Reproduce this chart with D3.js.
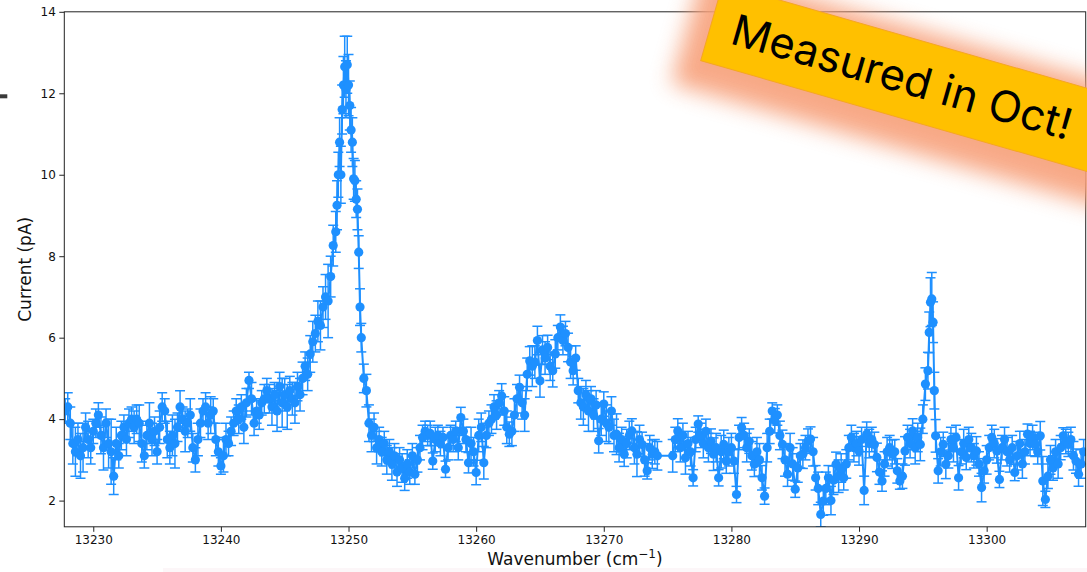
<!DOCTYPE html>
<html><head><meta charset="utf-8">
<script src="https://cdn.jsdelivr.net/npm/d3@7"></script>
<style>html,body{margin:0;padding:0;background:#fff;} svg{display:block;}</style>
</head><body>
<svg id="chart" width="1087" height="572"></svg>
<script>
// ---------------- DATA ----------------
const wavenumber = [
 13227.8,13228.0,13228.2,13228.4,13228.6,13228.8,13229.0,13229.2,13229.4,13229.6,
 13229.8,13230.0,13230.2,13230.4,13230.6,13230.8,13231.0,13231.2,13231.4,13231.6,
 13231.8,13232.0,13232.2,13232.4,13232.6,13232.8,13233.0,13233.2,13233.4,13233.6,
 13233.8,13234.0,13234.2,13234.4,13234.6,13234.8,13235.0,13235.2,13235.4,13235.6,
 13235.8,13236.0,13236.2,13236.4,13236.6,13236.8,13237.0,13237.2,13237.4,13237.6,
 13237.8,13238.0,13238.2,13238.4,13238.6,13238.8,13239.0,13239.2,13239.4,13239.6,
 13239.8,13240.0,13240.2,13240.4,13240.6,13240.8,13241.0,13241.2,13241.4,13241.6,
 13241.8,13242.0,13242.2,13242.4,13242.6,13242.8,13243.0,13243.2,13243.4,13243.6,
 13243.8,13244.0,13244.2,13244.4,13244.6,13244.8,13245.0,13245.2,13245.4,13245.6,
 13245.8,13246.0,13246.2,13246.4,13246.6,13246.8,13247.0,13247.2,13247.4,13247.6,
 13247.8,13248.0,13248.2,13248.4,13248.6,13248.8,
 13249.0,13249.1,13249.2,13249.3,13249.4,13249.5,13249.6,13249.7,13249.8,13249.9,13250.0,13250.1,13250.2,13250.3,13250.4,13250.5,13250.6,13250.7,13250.8,13250.9,
 13251.0,13251.2,13251.4,13251.6,13251.8,
 13252.0,13252.2,13252.4,13252.6,13252.8,13253.0,13253.2,13253.4,13253.6,13253.8,
 13254.0,13254.2,13254.4,13254.6,13254.8,13255.0,13255.2,13255.4,13255.6,13255.8,
 13256.0,13256.2,13256.4,13256.6,13256.8,13257.0,13257.2,13257.4,13257.6,13257.8,
 13258.0,13258.2,13258.4,13258.6,13258.8,13259.0,13259.2,13259.4,13259.6,13259.8,
 13260.0,13260.2,13260.4,13260.6,13260.8,13261.0,13261.2,13261.4,13261.6,13261.8,
 13262.0,13262.2,13262.4,13262.6,13262.8,13263.0,13263.2,13263.4,13263.6,13263.8,
 13264.0,13264.2,13264.4,13264.6,13264.8,13265.0,13265.2,13265.4,13265.6,13265.8,
 13266.0,13266.2,13266.4,13266.6,13266.8,13267.0,13267.2,13267.4,13267.6,13267.8,
 13268.0,13268.2,13268.4,13268.6,13268.8,13269.0,13269.2,13269.4,13269.6,13269.8,
 13270.0,13270.2,13270.4,13270.6,13270.8,13271.0,13271.2,13271.4,13271.6,13271.8,
 13272.0,13272.2,13272.4,13272.6,13272.8,13273.0,13273.2,13273.4,13273.6,13273.8,
 13274.0,13274.2,13275.4,13275.6,13275.8,
 13276.0,13276.2,13276.4,13276.6,13276.8,13277.0,13277.2,13277.4,13277.6,13277.8,
 13278.0,13278.2,13278.4,13278.6,13278.8,13279.0,13279.2,13279.4,13279.6,13279.8,
 13280.0,13280.2,13280.4,13280.6,13280.8,13281.0,13281.2,13281.4,13281.6,13281.8,
 13282.0,13282.2,13282.4,13282.6,13282.8,13283.0,13283.2,13283.4,13283.6,13283.8,
 13284.0,13284.2,13284.4,13284.6,13284.8,13285.0,13285.2,13285.4,13285.6,13285.8,
 13286.0,13286.2,13286.4,13286.6,13286.8,13287.0,13287.2,13287.4,13287.6,13287.8,
 13288.0,13288.2,13288.4,13288.6,13288.8,13289.0,13289.2,13289.4,13289.6,13289.8,
 13290.0,13290.2,13290.4,13290.6,13290.8,13291.0,13291.2,13291.4,13291.6,13291.8,
 13292.0,13292.2,13292.4,13292.6,13292.8,13293.0,13293.2,13293.4,13293.6,13293.8,
 13294.0,13294.2,13294.4,13294.6,13294.8,13295.0,13295.2,13295.4,13295.5,13295.6,13295.7,13295.8,13295.9,13296.0,13296.2,
 13296.4,13296.6,13296.8,13297.0,13297.2,13297.4,13297.6,13297.8,
 13298.0,13298.2,13298.4,13298.6,13298.8,13299.0,13299.2,13299.4,13299.6,13299.8,
 13300.0,13300.2,13300.4,13300.6,13300.8,13301.0,13301.2,13301.4,13301.6,13301.8,
 13302.0,13302.2,13302.4,13302.6,13302.8,13303.0,13303.2,13303.4,13303.6,13303.8,
 13304.0,13304.2,13304.4,13304.6,13304.8,13305.0,13305.2,13305.4,13305.6,13305.8,
 13306.0,13306.2,13306.4,13306.6,13306.8,13307.0,13307.2,13307.4,13307.6
];
const current = [
 4.2,4.3,3.9,3.4,3.2,3.5,3.1,3.3,3.8,3.5,
 3.3,3.7,3.9,4.1,3.6,3.3,3.9,3.4,3.2,2.6,
 3.4,3.1,3.6,3.8,3.5,3.9,4.0,3.8,4.0,3.9,
 3.4,3.1,3.6,3.9,3.5,3.7,3.2,3.8,4.3,4.2,
 3.5,3.3,3.6,3.4,3.8,4.3,4.0,3.7,3.9,4.1,
 3.3,3.0,3.5,3.9,4.2,4.3,3.9,4.1,4.2,3.5,
 3.2,2.85,3.1,3.5,3.4,3.7,3.9,4.2,4.0,4.3,
 3.8,4.4,4.95,4.5,3.9,4.2,4.1,4.4,4.5,4.7,
 4.5,4.3,4.6,4.2,4.8,4.4,4.6,4.3,4.7,4.5,
 4.4,4.8,4.6,5.0,5.3,5.1,5.6,5.9,6.1,6.4,
 6.3,6.75,7.0,6.9,7.5,8.26,
 8.6,9.25,10.0,10.8,10.0,11.6,12.2,12.65,12.1,12.7,12.2,11.7,11.1,10.8,9.9,9.85,9.4,9.15,8.1,6.75,
 6.0,5.0,4.7,3.9,3.6,
 3.8,3.3,3.5,3.2,3.4,3.0,3.2,2.9,3.1,2.7,
 3.0,2.8,2.55,2.9,2.7,3.1,2.65,3.0,3.3,3.55,
 3.7,3.6,3.65,2.97,3.5,3.6,3.4,3.55,2.77,3.3,
 3.6,3.5,3.7,3.3,4.04,3.7,3.5,2.93,3.4,3.2,
 2.69,3.6,3.8,2.93,3.6,3.9,4.0,4.3,4.1,4.4,
 4.57,4.2,3.8,3.63,3.7,4.1,4.5,4.78,4.4,4.1,
 5.1,5.43,5.3,5.4,5.93,4.94,5.7,5.5,5.76,5.3,
 5.19,5.6,6.0,6.26,5.93,6.1,5.76,5.4,5.19,5.5,
 4.7,4.4,4.3,4.6,4.2,4.5,4.1,4.35,3.47,4.0,
 4.37,3.9,3.8,4.2,3.6,3.63,3.3,3.5,3.14,3.4,
 3.6,3.71,3.3,3.14,3.5,3.38,3.0,2.73,3.3,3.14,
 3.2,3.1,3.1,3.5,3.71,
 3.3,3.6,3.05,3.4,3.2,2.56,3.5,3.88,3.6,3.4,
 3.7,3.3,3.46,3.14,3.3,2.56,3.2,3.38,2.97,3.2,
 3.3,2.97,2.15,3.55,3.79,3.6,3.3,3.46,3.1,2.89,
 3.2,3.0,2.56,2.11,3.3,3.7,4.2,3.96,4.1,3.6,
 3.38,3.0,2.65,3.3,2.9,2.28,2.8,3.1,3.14,3.3,
 3.46,3.51,3.2,2.56,2.3,1.66,1.99,2.3,2.56,2.0,
 2.5,2.89,2.6,2.8,2.56,2.9,3.3,3.55,3.3,3.4,
 3.22,3.5,2.25,3.63,3.4,3.5,3.38,3.06,2.7,2.48,
 2.9,3.2,3.3,3.14,3.2,2.73,2.48,2.6,3.22,3.55,
 3.4,3.71,3.3,3.55,3.38,4.0,4.86,5.19,6.13,6.87,6.95,6.38,4.7,3.59,2.73,
 3.2,3.38,2.89,3.1,3.5,3.3,3.55,2.56,
 3.2,3.4,3.06,3.5,3.3,3.1,3.22,2.9,2.32,2.73,
 3.0,3.3,3.55,3.4,3.22,2.52,3.3,3.5,3.2,3.0,
 3.3,2.69,3.1,3.4,2.9,3.2,3.63,3.4,3.55,3.38,
 3.2,3.59,2.48,2.03,2.6,3.0,2.8,3.2,2.9,3.3,
 3.59,3.45,3.38,3.5,3.1,2.97,2.65,2.9,3.2
];
const uncertainty = [
 0.3,0.35,0.4,0.5,0.6,0.4,0.55,0.6,0.35,0.45,
 0.4,0.3,0.35,0.3,0.45,0.55,0.35,0.6,0.8,0.45,
 0.4,0.3,0.35,0.3,0.4,0.35,0.3,0.4,0.35,0.45,
 0.45,0.3,0.35,0.5,0.4,0.35,0.3,0.4,0.35,0.3,
 0.45,0.4,0.5,0.6,0.35,0.4,0.3,0.5,0.35,0.4,
 0.35,0.3,0.4,0.35,0.3,0.35,0.4,0.45,0.3,0.4,
 0.35,0.2,0.4,0.4,0.3,0.35,0.3,0.3,0.35,0.3,
 0.4,0.35,0.2,0.4,0.3,0.3,0.35,0.3,0.35,0.3,
 0.35,0.45,0.3,0.5,0.35,0.6,0.4,0.55,0.35,0.4,
 0.5,0.35,0.4,0.4,0.35,0.4,0.45,0.5,0.45,0.5,
 0.6,0.5,0.55,0.9,0.5,0.5,
 0.5,0.6,0.55,0.6,0.7,0.6,0.7,0.75,0.7,0.7,0.75,0.6,0.55,0.6,0.5,0.5,0.45,0.5,0.4,0.45,
 0.35,0.35,0.4,0.45,0.4,
 0.35,0.4,0.3,0.35,0.3,0.35,0.3,0.4,0.3,0.35,
 0.3,0.35,0.3,0.35,0.3,0.3,0.25,0.3,0.3,0.3,
 0.25,0.25,0.3,0.2,0.3,0.25,0.3,0.25,0.2,0.3,
 0.25,0.3,0.25,0.3,0.25,0.3,0.3,0.25,0.4,0.35,
 0.3,0.4,0.35,0.4,0.3,0.3,0.35,0.3,0.35,0.3,
 0.3,0.35,0.4,0.3,0.35,0.4,0.35,0.3,0.4,0.4,
 0.4,0.35,0.5,0.4,0.35,0.4,0.35,0.4,0.3,0.35,
 0.4,0.35,0.3,0.3,0.35,0.3,0.35,0.4,0.35,0.3,
 0.3,0.4,0.45,0.35,0.5,0.3,0.4,0.35,0.3,0.4,
 0.3,0.45,0.4,0.35,0.4,0.5,0.35,0.3,0.3,0.35,
 0.35,0.3,0.4,0.55,0.35,0.3,0.4,0.2,0.3,0.35,
 0.3,0.35,0.4,0.3,0.3,
 0.35,0.3,0.4,0.3,0.35,0.2,0.3,0.2,0.3,0.35,
 0.3,0.35,0.3,0.4,0.35,0.2,0.4,0.35,0.3,0.35,
 0.35,0.3,0.2,0.3,0.25,0.3,0.35,0.3,0.35,0.3,
 0.35,0.4,0.3,0.2,0.35,0.3,0.2,0.3,0.25,0.35,
 0.35,0.4,0.3,0.35,0.4,0.2,0.35,0.3,0.35,0.3,
 0.3,0.3,0.35,0.3,0.4,0.3,0.35,0.4,0.3,0.35,
 0.35,0.3,0.4,0.35,0.3,0.35,0.3,0.3,0.35,0.3,
 0.35,0.3,0.35,0.3,0.35,0.3,0.3,0.35,0.3,0.25,
 0.3,0.35,0.3,0.35,0.3,0.3,0.2,0.3,0.35,0.3,
 0.35,0.3,0.4,0.35,0.4,0.35,0.4,0.45,0.5,0.6,0.65,0.5,0.45,0.4,0.3,
 0.35,0.3,0.35,0.3,0.3,0.35,0.3,0.3,
 0.3,0.35,0.3,0.3,0.35,0.3,0.35,0.3,0.35,0.3,
 0.35,0.3,0.3,0.35,0.3,0.2,0.3,0.3,0.35,0.3,
 0.3,0.2,0.35,0.3,0.35,0.3,0.25,0.3,0.3,0.3,
 0.3,0.35,0.6,0.2,0.3,0.35,0.3,0.3,0.35,0.3,
 0.2,0.3,0.3,0.3,0.35,0.3,0.3,0.35,0.3
];
const xTicks = [13230, 13240, 13250, 13260, 13270, 13280, 13290, 13300];
const yTicks = [2, 4, 6, 8, 10, 12, 14];
const xLabelMain = "Wavenumber (cm";
const xLabelSup = "\u22121";
const yLabelText = "Current (pA)";
const noteText = "Measured in Oct!";

// ---------------- CHART ----------------
const svg = d3.select("#chart");
const plot = {left: 64.3, right: 1085.7, top: 11.8, bottom: 526.8};
const x = d3.scaleLinear().domain([13227.73, 13307.76]).range([plot.left, plot.right]);
const y = d3.scaleLinear().domain([1.357, 14]).range([plot.bottom, plot.top]);
const blue = "#1E90FF";

const n = Math.min(wavenumber.length, current.length, uncertainty.length);
if (wavenumber.length !== current.length || current.length !== uncertainty.length)
  console.warn("length mismatch", wavenumber.length, current.length, uncertainty.length);
const data = d3.range(n).map(i => ({x: wavenumber[i], y: current[i], e: uncertainty[i]}));

const defs = svg.append("defs");
defs.append("clipPath").attr("id", "clip").append("rect")
  .attr("x", plot.left).attr("y", plot.top)
  .attr("width", plot.right - plot.left).attr("height", plot.bottom - plot.top);
const glow = defs.append("filter").attr("id", "glow")
  .attr("x", "-30%").attr("y", "-100%").attr("width", "160%").attr("height", "300%");
glow.append("feGaussianBlur").attr("stdDeviation", 11);

// faint strip and mark at edges
svg.append("rect").attr("x", 163).attr("y", 568).attr("width", 924).attr("height", 4).attr("fill", "#fcf6f8");
svg.append("rect").attr("x", 0).attr("y", 94.3).attr("width", 7.3).attr("height", 4).attr("fill", "#3a3a3a");

const g = svg.append("g").attr("clip-path", "url(#clip)");

// error bars
const capHalf = 5;
const eb = g.append("g").attr("stroke", blue).attr("stroke-width", 1.5).attr("fill", "none");
eb.selectAll("line.v").data(data).join("line").attr("class", "v")
  .attr("x1", d => x(d.x)).attr("x2", d => x(d.x))
  .attr("y1", d => y(d.y - d.e)).attr("y2", d => y(d.y + d.e));
eb.selectAll("line.cl").data(data).join("line").attr("class", "cl")
  .attr("x1", d => x(d.x) - capHalf).attr("x2", d => x(d.x) + capHalf)
  .attr("y1", d => y(d.y - d.e)).attr("y2", d => y(d.y - d.e));
eb.selectAll("line.cu").data(data).join("line").attr("class", "cu")
  .attr("x1", d => x(d.x) - capHalf).attr("x2", d => x(d.x) + capHalf)
  .attr("y1", d => y(d.y + d.e)).attr("y2", d => y(d.y + d.e));

// data line
g.append("path").datum(data)
  .attr("fill", "none").attr("stroke", blue).attr("stroke-width", 2)
  .attr("d", d3.line().x(d => x(d.x)).y(d => y(d.y)));

// markers
g.append("g").attr("fill", blue).selectAll("circle").data(data).join("circle")
  .attr("cx", d => x(d.x)).attr("cy", d => y(d.y)).attr("r", 4.6);

// axes
const font = "DejaVu Sans, sans-serif";
const xAxis = svg.append("g").attr("transform", `translate(0,${plot.bottom})`)
  .call(d3.axisBottom(x).tickValues(xTicks).tickFormat(d3.format("d")).tickSize(5).tickPadding(3.5).tickSizeOuter(0));
const yAxis = svg.append("g").attr("transform", `translate(${plot.left},0)`)
  .call(d3.axisLeft(y).tickValues(yTicks).tickFormat(d3.format("d")).tickSize(5).tickPadding(3.5).tickSizeOuter(0));
[xAxis, yAxis].forEach(a => {
  a.select(".domain").remove();
  a.selectAll(".tick line").attr("stroke", "#222").attr("stroke-width", 1);
  a.selectAll(".tick text").attr("fill", "#111").style("font-family", font).style("font-size", "12px");
});

// frame
svg.append("rect").attr("x", plot.left).attr("y", plot.top)
  .attr("width", plot.right - plot.left).attr("height", plot.bottom - plot.top)
  .attr("fill", "none").attr("stroke", "#222").attr("stroke-width", 1);

// labels
const xl = svg.append("text").attr("x", (plot.left + plot.right) / 2).attr("y", 565)
  .attr("text-anchor", "middle").style("font-family", font).style("font-size", "17px").attr("fill", "#111");
xl.append("tspan").text(xLabelMain);
xl.append("tspan").attr("dy", -7).style("font-size", "12px").text(xLabelSup);
xl.append("tspan").attr("dy", 7).text(")");

svg.append("text").attr("transform", `translate(31,${(plot.top + plot.bottom) / 2}) rotate(-90)`)
  .attr("text-anchor", "middle").style("font-family", font).style("font-size", "17px").attr("fill", "#111")
  .text(yLabelText);

// sticky note
const noteW = 420, noteH = 80;
const note = svg.append("g").attr("transform", "translate(913.6,80.1) rotate(16)");
note.append("rect").attr("x", -noteW / 2 - 22).attr("y", -noteH / 2 - 10)
  .attr("width", noteW + 34).attr("height", noteH + 40)
  .attr("fill", "#f7a07a").attr("opacity", 0.9).attr("filter", "url(#glow)");
note.append("rect").attr("x", -noteW / 2).attr("y", -noteH / 2)
  .attr("width", noteW).attr("height", noteH)
  .attr("fill", "#FFC000").attr("stroke", "#F5A623").attr("stroke-width", 1);
note.append("text").attr("x", -12).attr("y", 0).attr("dy", "0.36em")
  .attr("text-anchor", "middle").style("font-family", "Inter, 'Open Sans', sans-serif")
  .style("font-size", "43px").attr("fill", "#000")
  .attr("textLength", 352).attr("lengthAdjust", "spacingAndGlyphs")
  .text(noteText);
</script>
</body></html>
